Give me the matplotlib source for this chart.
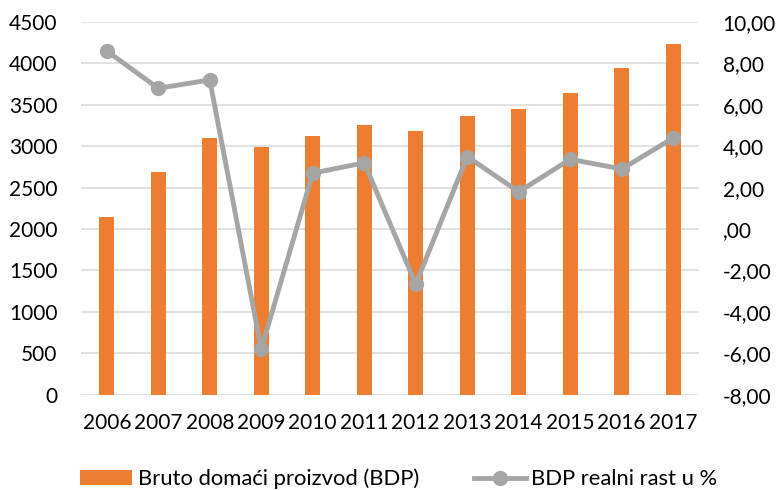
import matplotlib
matplotlib.use("Agg")
import matplotlib.pyplot as plt
from matplotlib.ticker import FuncFormatter, MultipleLocator
import numpy as np

years = ["2006", "2007", "2008", "2009", "2010", "2011", "2012",
         "2013", "2014", "2015", "2016", "2017"]
bdp = [2145, 2688, 3100, 2988, 3120, 3258, 3178, 3360, 3452, 3648, 3945, 4232]
rast = [8.6, 6.8, 7.2, -5.8, 2.7, 3.2, -2.66, 3.5, 1.8, 3.37, 2.9, 4.4]

bar_label = "Bruto domaći proizvod (BDP)"
line_label = "BDP realni rast u %"

plt.rcParams['font.family'] = ['Lato', 'DejaVu Sans']
FS = 15
LFS = 15.8

fig = plt.figure(figsize=(7.8, 4.9), dpi=100)
ax = fig.add_axes([81/780, 1 - 394.7/490, (699-81)/780, (394.7-22)/490])
x = np.arange(len(years))

bars = ax.bar(x, bdp, width=0.30, color="#ED7D31", zorder=2, label=bar_label)
ax.set_ylim(0, 4500)
ax.yaxis.set_major_locator(MultipleLocator(500))
ax.set_xlim(-0.5, len(years) - 0.5)
ax.set_xticks(x)
ax.set_xticklabels(years)
ax.grid(axis='y', color="#D9D9D9", linewidth=1.1, zorder=0)
ax.set_axisbelow(True)
for s in ax.spines.values():
    s.set_visible(False)
ax.tick_params(axis='both', length=0, labelsize=FS, colors="#000000")
ax.tick_params(axis='y', pad=17)
ax.tick_params(axis='x', pad=13)

ax2 = ax.twinx()
line, = ax2.plot(x, rast, color="#A5A5A5", linewidth=3.5, marker='o',
                 markersize=10, zorder=3, label=line_label)
ax2.set_ylim(-8, 10)
ax2.yaxis.set_major_locator(MultipleLocator(2))

def fmt(v, pos):
    s = f"{v:.2f}".replace('.', ',')
    if abs(v) < 1e-9:
        s = ",00"
    return s

ax2.yaxis.set_major_formatter(FuncFormatter(fmt))
for s in ax2.spines.values():
    s.set_visible(False)
ax2.tick_params(axis='y', length=0, labelsize=FS, pad=17, colors="#000000")

leg = fig.legend([bars, line], [bar_label, line_label], loc='center',
                 bbox_to_anchor=(399/780, 1 - 479/490), ncol=2, frameon=False,
                 fontsize=LFS, handlelength=2.37, handletextpad=0.25,
                 columnspacing=2.5, handleheight=0.65)

fig.savefig("out.png", dpi=100)
